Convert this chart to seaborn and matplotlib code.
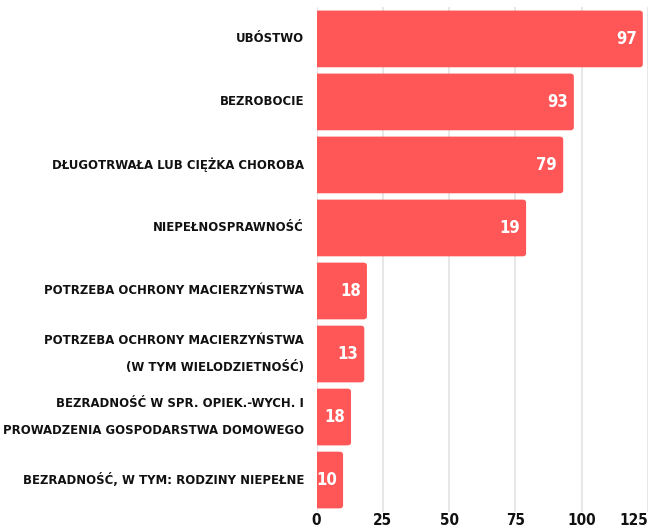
import numpy as np
import pandas as pd
import matplotlib
matplotlib.use('Agg')
import matplotlib.pyplot as plt
from matplotlib.patches import FancyBboxPatch
import seaborn as sns

# --------------------
# DATA
# --------------------
categories = [
    'UBÓSTWO',
    'BEZROBOCIE',
    'DŁUGOTRWAŁA LUB CIĘŻKA CHOROBA',
    'NIEPEŁNOSPRAWNOŚĆ',
    'POTRZEBA OCHRONY MACIERZYŃSTWA',
    'POTRZEBA OCHRONY MACIERZYŃSTWA\n(W TYM WIELODZIETNOŚĆ)',
    'BEZRADNOŚĆ W SPR. OPIEK.-WYCH. I\nPROWADZENIA GOSPODARSTWA DOMOWEGO',
    'BEZRADNOŚĆ, W TYM: RODZINY NIEPEŁNE',
]
values = [123, 97, 93, 79, 19, 18, 13, 10]
bar_labels = ['97', '93', '79', '19', '18', '13', '18', '10']
xticks = [0, 25, 50, 75, 100, 125]

bar_color = '#FF5757'
font = ['DejaVu Sans']

df = pd.DataFrame({'cat': categories, 'val': values})

sns.set_style('white')
plt.rcParams['font.family'] = font
plt.rcParams['font.stretch'] = 'condensed'

fig = plt.figure(figsize=(6.54, 5.29), dpi=100)
ax = fig.add_axes([0.484, 0.033, 0.507, 0.953])

sns.barplot(data=df, y='cat', x='val', color=bar_color, saturation=1,
            width=0.9, ax=ax, zorder=3)

# rounded bar ends
for p in list(ax.patches):
    x0, y0 = p.get_x(), p.get_y()
    w, h = p.get_width(), p.get_height()
    rb = FancyBboxPatch((x0 - 3, y0), w + 3, h,
                        boxstyle='round,pad=0,rounding_size=1.3',
                        mutation_aspect=0.037,
                        fc=bar_color, ec='none', zorder=3)
    ax.add_patch(rb)
    p.remove()

ax.set_xlim(0, 125)
ax.set_xticks(xticks)
ax.set_xticklabels([str(t) for t in xticks], fontsize=11, fontweight='bold',
                   stretch='condensed', color='#111111')
ax.get_xticklabels()[-1].set_ha('right')
ax.xaxis.grid(True, color='#E3E3E3', linewidth=1.2, zorder=0)
ax.set_axisbelow(True)
ax.set_xlabel('')
ax.set_ylabel('')
ax.tick_params(axis='both', length=0)
ax.tick_params(axis='x', pad=1)
ax.tick_params(axis='y', pad=9)
for lab in ax.get_yticklabels():
    lab.set_fontsize(9.4)
    lab.set_fontweight('bold')
    lab.set_fontstretch('condensed')
    lab.set_color('#111111')
    lab.set_linespacing(2.4)
    lab.set_va('center')
sns.despine(ax=ax, left=True, bottom=True)

for i, (v, t) in enumerate(zip(values, bar_labels)):
    ax.annotate(t, (v, i), xytext=(-6, 0), textcoords='offset pixels',
                ha='right', va='center', color='white', fontsize=12,
                fontweight='bold', stretch='condensed', zorder=4)

fig.savefig('out.png', dpi=100)
